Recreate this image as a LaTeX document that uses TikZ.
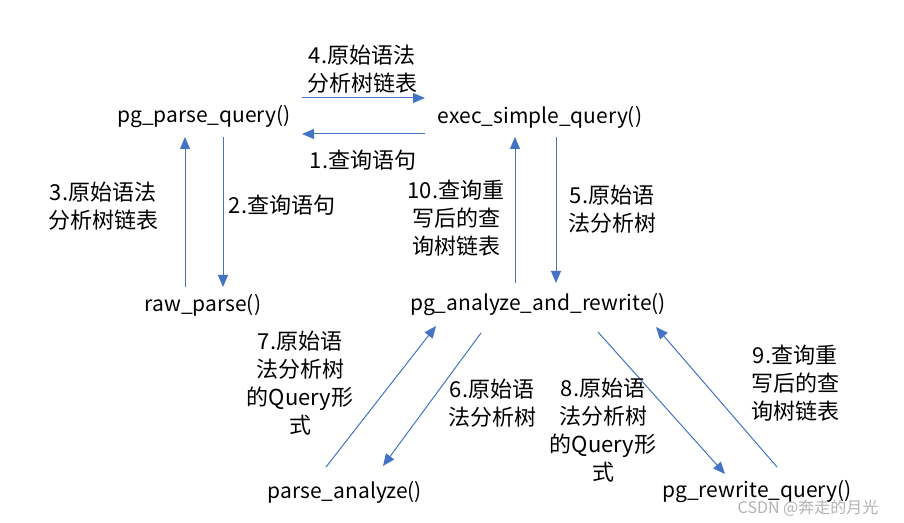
\documentclass[tikz,border=0pt]{standalone}
\usepackage{fontspec}
\setmainfont{Noto Sans CJK SC}
\usepackage{tikz}
\usetikzlibrary{arrows.meta, calc}

\definecolor{flowblue}{HTML}{4472C4}

\begin{document}
\begin{tikzpicture}[
    x=0.5pt, y=-0.5pt,
    func/.style={inner sep=1pt, font=\fontsize{10.5}{13}\selectfont},
    note/.style={inner sep=0pt, align=center, font=\fontsize{11}{14}\selectfont},
    arrow/.style={-{Triangle[length=6pt, width=5pt]}, line width=0.5pt, draw=flowblue}
]
    \useasboundingbox (0,0) rectangle (904,523);

    % function nodes
    \node[func] (ppq) at (204,117) {pg\_parse\_query()};
    \node[func] (esq) at (540,117) {exec\_simple\_query()};
    \node[func] (raw) at (203,305) {raw\_parse()};
    \node[func] (paw) at (538,305) {pg\_analyze\_and\_rewrite()};
    \node[func] (pa) at (345,492) {parse\_analyze()};
    \node[func] (prq) at (757,492) {pg\_rewrite\_query()};

    % arrows
    \draw[arrow] ($(ppq)+(98,-19)$) -- ($(esq)+(-115,-19)$);
    \draw[arrow] ($(esq)+(-115,17)$) -- ($(ppq)+(98,17)$);
    \draw[arrow] ($(raw)+(-18,-18)$) -- ($(ppq)+(-19,20)$);
    \draw[arrow] ($(ppq)+(19,20)$) -- ($(raw)+(20,-18)$);
    \draw[arrow] ($(paw)+(-23,-22)$) -- ($(esq)+(-25,20)$);
    \draw[arrow] ($(esq)+(16,20)$) -- ($(paw)+(18,-22)$);
    \draw[arrow] ($(pa)+(-19,-25)$) -- ($(paw)+(-102,21)$);
    \draw[arrow] ($(paw)+(-57,28)$) -- ($(pa)+(38,-26)$);
    \draw[arrow] ($(paw)+(60,27)$) -- ($(prq)+(-32,-18)$);
    \draw[arrow] ($(prq)+(20,-25)$) -- ($(paw)+(118,22)$);

    % labels
    \node[note] (l4) at (362,69) {4.原始语法\\分析树链表};
    \node[note] (l1) at (363,160) {1.查询语句};
    \node[note] (l3) at (103,206) {3.原始语法\\分析树链表};
    \node[note] (l2) at (282,205) {2.查询语句};
    \node[note] (l10) at (456,218) {10.查询重\\写后的查\\询树链表};
    \node[note] (l5) at (612,209) {5.原始语\\法分析树};
    \node[note] (l7) at (300,383) {7.原始语\\法分析树\\的Query形\\式};
    \node[note] (l6) at (492,403) {6.原始语\\法分析树};
    \node[note] (l8) at (603,430) {8.原始语\\法分析树\\的Query形\\式};
    \node[note] (l9) at (795,383) {9.查询重\\写后的查\\询树链表};

    % watermark
    \node[inner sep=0pt, text=black!30, font=\fontsize{8}{9}\selectfont] (mark) at (808,508) {CSDN @奔走的月光};
\end{tikzpicture}
\end{document}
